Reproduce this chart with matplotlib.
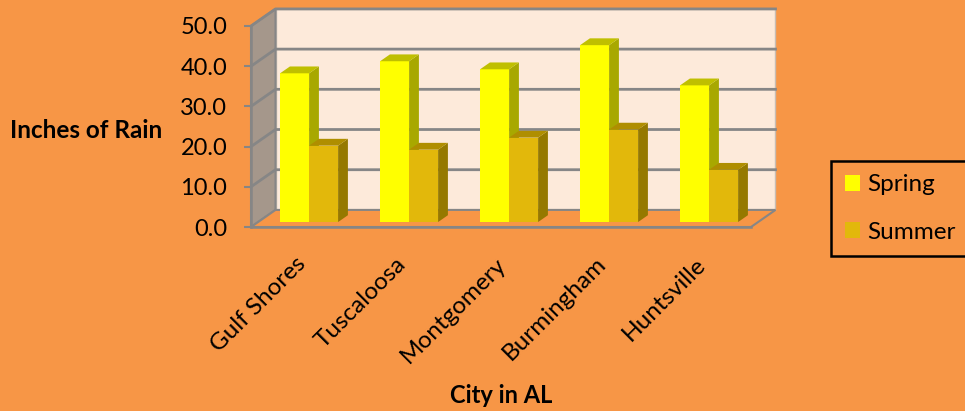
import matplotlib
matplotlib.use("Agg")
import matplotlib.pyplot as plt
from matplotlib.patches import Patch

plt.rcParams["font.family"] = ["Lato", "DejaVu Sans"]

cities = ["Gulf Shores", "Tuscaloosa", "Montgomery", "Burmingham", "Huntsville"]
spring = [37, 40, 38, 44, 34]
summer = [19, 18, 21, 23, 13]
y_ticks = [0, 10, 20, 30, 40, 50]

BG = "#F79646"
WALL = "#FDEADA"
SIDE = "#A5978B"
GRID = "#868686"

# how far the back wall sits from the front plane, in data units
DEPTH_X = 0.245
DEPTH_Y = 4.25
BAR_W = 0.29
GAP = 0.22
D0, D1 = 0.29, 0.69

fig = plt.figure(figsize=(9.65, 4.11), dpi=100, facecolor=BG)
ax = fig.add_axes([251 / 965, 1 - 227 / 411, 500 / 965, 201 / 411])
ax.set_facecolor("none")
ax.set_xlim(0, 5)
ax.set_ylim(0, 50)

# walls and floor
ax.fill([DEPTH_X, 5 + DEPTH_X, 5 + DEPTH_X, DEPTH_X],
        [DEPTH_Y, DEPTH_Y, 50 + DEPTH_Y, 50 + DEPTH_Y],
        facecolor=WALL, edgecolor="#C8BDB3", lw=1, clip_on=False, zorder=1)
ax.fill([0, DEPTH_X, DEPTH_X, 0], [0, DEPTH_Y, 50 + DEPTH_Y, 50],
        facecolor=SIDE, edgecolor=GRID, lw=1.5, clip_on=False, zorder=1)
ax.fill([0, 5, 5 + DEPTH_X, DEPTH_X], [0, 0, DEPTH_Y, DEPTH_Y],
        facecolor=BG, edgecolor=GRID, lw=1.5, clip_on=False, zorder=1)

# grid lines go along the side wall and then the back wall
for v in y_ticks[1:]:
    ax.plot([0, DEPTH_X, 5 + DEPTH_X], [v, v + DEPTH_Y, v + DEPTH_Y],
            color=GRID, lw=2, clip_on=False, zorder=2)


def draw_bar(x, val, front, side, top, z):
    base = D0 * DEPTH_Y
    dx = (D1 - D0) * DEPTH_X
    dy = (D1 - D0) * DEPTH_Y
    ax.bar(x, val, BAR_W, bottom=base, align="edge", color=front,
           clip_on=False, zorder=z)
    ax.fill([x + BAR_W, x + BAR_W + dx, x + BAR_W + dx, x + BAR_W],
            [base, base + dy, base + val + dy, base + val],
            color=side, lw=0, clip_on=False, zorder=z)
    ax.fill([x, x + BAR_W, x + BAR_W + dx, x + dx],
            [base + val, base + val, base + val + dy, base + val + dy],
            color=top, lw=0, clip_on=False, zorder=z)


for i in range(len(cities)):
    x0 = i + D0 * DEPTH_X + GAP
    draw_bar(x0, spring[i], "#FFFF00", "#A8A800", "#BFBF00", 3 + i * 2)
    draw_bar(x0 + BAR_W, summer[i], "#E2B80B", "#957900", "#AF8E00", 4 + i * 2)

for s in ["top", "right"]:
    ax.spines[s].set_visible(False)
for s in ["left", "bottom"]:
    ax.spines[s].set_color(GRID)
    ax.spines[s].set_linewidth(1.8)
    ax.spines[s].set_zorder(20)

ax.set_yticks(y_ticks)
ax.set_yticklabels([f"{v:.1f}" for v in y_ticks], fontsize=17, color="black")
ax.tick_params(axis="y", length=5, width=1.5, color=GRID, pad=12)

ax.set_xticks([i + 0.44 for i in range(len(cities))])
ax.set_xticklabels(cities, rotation=45, ha="right", va="top",
                   rotation_mode="anchor", fontsize=17.5)
ax.tick_params(axis="x", length=0, pad=19)

ax.set_ylabel("Inches of Rain", rotation=0, fontsize=17.5, fontweight="bold",
              ha="center", va="center")
ax.yaxis.set_label_coords((86 - 251) / 500, (227 - 131) / 201)
ax.set_xlabel("City in AL", fontsize=17, fontweight="bold", ha="center", va="center")
ax.xaxis.set_label_coords(0.5, (227 - 395) / 201)

handles = [Patch(facecolor="#FFFF00", label="Spring"),
           Patch(facecolor="#E2B80B", label="Summer")]
leg = fig.legend(handles=handles, loc="center left",
                 bbox_to_anchor=(831 / 965, 1 - 208.5 / 411),
                 frameon=True, fancybox=False, facecolor=BG, edgecolor="black",
                 framealpha=1, fontsize=17.5, handlelength=0.62, handleheight=0.62,
                 handletextpad=0.3, labelspacing=1.07, borderpad=0.56,
                 borderaxespad=0, labelcolor="black")
leg.get_frame().set_linewidth(1.8)

fig.savefig("out.png", dpi=100, facecolor=BG)
